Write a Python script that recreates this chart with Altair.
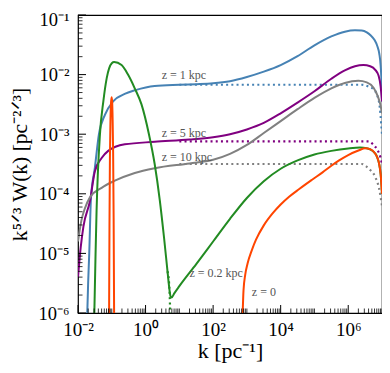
import altair as alt
import numpy as np
import pandas as pd

FONT = "Liberation Serif"

# ---- curve samples (log10 k [pc^-1], log10 k^{5/3} W(k)) ----
blue_lk = [-1.73, -1.70, -1.667, -1.617, -1.5, -1.38, -1.20, -0.96, -0.6, -0.3, 0.27, 1.0, 1.5,
           2.0, 2.5, 3.0, 3.5, 4.0, 4.5, 5.0, 5.5, 5.9, 6.2, 6.4, 6.55, 6.66, 6.78, 6.86, 6.92,
           6.96, 6.99, 7.0]
blue_lw = [-6.1, -5.5, -5.0, -4.08, -3.56, -3.0, -2.67, -2.45, -2.32, -2.26, -2.19, -2.17, -2.16,
           -2.145, -2.11, -2.04, -1.95, -1.84, -1.69, -1.51, -1.36, -1.28, -1.257, -1.26, -1.29,
           -1.34, -1.42, -1.52, -1.65, -1.85, -2.2, -2.45]
blue_dot_lk = [1.0, 6.4, 6.6, 6.76, 6.91, 7.0]
blue_dot_lw = [-2.17, -2.17, -2.2, -2.25, -2.45, -3.0]

purple_lk = [-2.0, -1.92, -1.84, -1.646, -1.5, -1.3, -1.106, -0.614, 0.27, 1.3, 2.0, 2.5, 3.0, 3.5,
             4.0, 4.5, 5.0, 5.5, 5.9, 6.2, 6.45, 6.65, 6.8, 6.9, 6.96, 7.0]
purple_lw = [-5.4, -4.9, -4.55, -4.12, -3.62, -3.4, -3.28, -3.17, -3.128, -3.09, -3.05, -3.0, -2.92,
             -2.81, -2.65, -2.47, -2.28, -2.07, -1.93, -1.86, -1.84, -1.86, -1.92, -2.02, -2.2,
             -2.45]
purple_dot_lk = [1.0, 6.6, 6.75, 6.85, 6.95, 7.0]
purple_dot_lw = [-3.12, -3.12, -3.18, -3.25, -3.38, -3.5]

gray_lk = [-2.0, -1.9, -1.8, -1.646, -1.3, -0.91, -0.32, 0.27, 1.3, 2.0, 2.5, 3.0, 3.5, 4.0, 4.5,
           5.0, 5.5, 5.9, 6.3, 6.55, 6.75, 6.88, 6.95, 7.0]
gray_lw = [-4.8, -4.45, -4.25, -4.06, -3.9, -3.78, -3.65, -3.57, -3.49, -3.43, -3.33, -3.18, -2.98,
           -2.78, -2.58, -2.39, -2.23, -2.14, -2.105, -2.13, -2.22, -2.37, -2.5, -2.65]
gray_dot_lk = [1.0, 6.4, 6.61, 6.81, 6.91, 7.0]
gray_dot_lw = [-3.5, -3.5, -3.58, -3.73, -3.9, -4.2]

green_lk = [-1.52, -1.48, -1.45, -1.35, -1.25, -1.15, -1.0, -0.93, -0.71, -0.52, -0.32, -0.12, 0.1,
            0.27, 0.42, 0.55, 0.65, 0.71, 0.74, 0.77, 0.85, 1.0, 1.5, 2.0, 2.5, 3.0, 3.5, 4.0,
            4.5, 5.0, 5.5, 6.0, 6.35, 6.55, 6.72, 6.86, 6.96, 7.0]
green_lw = [-6.1, -5.0, -4.28, -3.0, -2.45, -2.06, -1.81, -1.79, -1.84, -2.0, -2.23, -2.5, -3.0,
            -3.5, -4.1, -4.75, -5.3, -5.62, -5.72, -5.74, -5.67, -5.55, -5.18, -4.8, -4.42, -4.07,
            -3.79, -3.58, -3.44, -3.34, -3.28, -3.24, -3.225, -3.235, -3.28, -3.39, -3.67, -4.0]
green_dot_lk = [0.65, 0.71, 0.725, 0.74]
green_dot_lw = [-5.3, -5.62, -5.9, -6.2]

orange_spike_lk = [-1.08, -1.068, -1.055, -1.04, -1.025, -1.006, -0.99, -0.975, -0.96, -0.945, -0.93]
orange_spike_lw = [-6.1, -4.5, -3.4, -2.8, -2.5, -2.38, -2.45, -2.75, -3.3, -4.4, -6.1]
orange_tail_lk = [2.875, 2.9, 2.95, 3.02, 3.15, 3.27, 3.5, 3.76, 4.0, 4.25, 4.55, 4.94, 5.24, 5.5,
                  5.73, 6.0, 6.32, 6.5, 6.66, 6.86, 6.96, 7.0]
orange_tail_lw = [-6.0, -5.62, -5.36, -5.17, -4.94, -4.77, -4.53, -4.33, -4.18, -4.05, -3.92, -3.76,
                  -3.64, -3.53, -3.44, -3.35, -3.27, -3.235, -3.255, -3.39, -3.67, -4.0]

series_names = ["blue", "purple", "gray", "green", "orange_a", "orange_b"]
series_colors = ["#4682b4", "#800080", "#808080", "#228b22", "#ff4500", "#ff4500"]

ann_text = ["z = 1 kpc", "z = 5 kpc", "z = 10 kpc", "z = 0.2 kpc", "z = 0"]
ann_k = [3.0, 3.0, 3.0, 20.0, 1.4e3]
ann_w = [8.3e-3, 9.0e-4, 3.55e-4, 4.0e-6, 1.92e-6]

x_major = [1e-2, 1e0, 1e2, 1e4, 1e6]
x_sup = ["⁻²", "⁰", "²", "⁴", "⁶"]
y_major = [1e-6, 1e-5, 1e-4, 1e-3, 1e-2, 1e-1]
y_sup = ["⁻⁶", "⁻⁵", "⁻⁴", "⁻³", "⁻²", "⁻¹"]
x_minor = [m * 10.0 ** e for e in range(-2, 7) for m in range(1, 10)
           if not (m == 1 and e % 2 == 0)] + [1e7]
y_minor = [m * 10.0 ** e for e in range(-6, -1) for m in range(2, 10)]


def frame(name, lk, lw):
    return pd.DataFrame({"series": name, "k": 10.0 ** np.array(lk), "W": 10.0 ** np.array(lw),
                         "i": np.arange(len(lk))})


solid_df = pd.concat([
    frame("blue", blue_lk, blue_lw),
    frame("purple", purple_lk, purple_lw),
    frame("gray", gray_lk, gray_lw),
    frame("green", green_lk, green_lw),
    frame("orange_a", orange_spike_lk, orange_spike_lw),
    frame("orange_b", orange_tail_lk, orange_tail_lw),
])
dot_df = pd.concat([
    frame("blue", blue_dot_lk, blue_dot_lw),
    frame("purple", purple_dot_lk, purple_dot_lw),
    frame("gray", gray_dot_lk, gray_dot_lw),
    frame("green", green_dot_lk, green_dot_lw),
])
ann_df = pd.DataFrame({"label": ann_text, "k": ann_k, "W": ann_w})


def label_expr(vals, sups):
    parts = []
    for v, s in zip(vals, sups):
        e = int(round(np.log10(v)))
        parts.append(f"round(log(datum.value)/LN10) == {e} ? '10{s}'")
    return " : ".join(parts) + " : ''"


W_PLOT, H_PLOT = 304, 298
MAJ, MIN = 8, 4.5

xs = alt.Scale(type="log", domain=[1e-2, 1e7], nice=False)
ys = alt.Scale(type="log", domain=[1e-6, 1e-1], nice=False)
cs = alt.Scale(domain=series_names, range=series_colors)

x_main = alt.Axis(orient="bottom", values=x_major, labelExpr=label_expr(x_major, x_sup),
                  ticks=False, domain=False, grid=False, labelFont=FONT, labelFontSize=19,
                  labelColor="black", labelPadding=7, labelFlush=False, labelBaseline="top",
                  title="k [pc⁻¹]", titleFont=FONT, titleFontSize=22, titleFontWeight="normal",
                  titleColor="black", titlePadding=1)
y_main = alt.Axis(orient="left", values=y_major, labelExpr=label_expr(y_major, y_sup),
                  ticks=False, domain=False, grid=False, labelFont=FONT, labelFontSize=18.5,
                  labelColor="black", labelPadding=9, labelFlush=False, labelBaseline="middle",
                  labelOffset={"condition": {"test": "datum.value > 0.05", "value": 4}, "value": 0},
                  title="k⁵ᐟ³ W(k)  [pc⁻²ᐟ³]", titleFont=FONT, titleFontSize=21.5,
                  titleFontWeight="normal", titleColor="black", titlePadding=7)

dotted = alt.Chart(dot_df).mark_line(clip=True, strokeWidth=2.2, strokeDash=[2, 3.2],
                                     interpolate="monotone").encode(
    x=alt.X("k:Q", scale=xs, axis=None),
    y=alt.Y("W:Q", scale=ys, axis=None),
    color=alt.Color("series:N", scale=cs, legend=None),
    order="i:Q",
)

solid = alt.Chart(solid_df).mark_line(clip=True, strokeWidth=2, interpolate="monotone").encode(
    x=alt.X("k:Q", scale=xs, axis=x_main),
    y=alt.Y("W:Q", scale=ys, axis=y_main),
    color=alt.Color("series:N", scale=cs, legend=None),
    order="i:Q",
)

labels = alt.Chart(ann_df).mark_text(align="left", baseline="alphabetic", font=FONT, fontSize=12,
                                     color="#555555").encode(
    x=alt.X("k:Q", scale=xs, axis=None),
    y=alt.Y("W:Q", scale=ys, axis=None),
    text="label:N",
)

# inward tick marks on bottom and left
xt_major = alt.Chart(pd.DataFrame({"v": x_major})).mark_rule(color="black", strokeWidth=1).encode(
    x=alt.X("v:Q", scale=xs, axis=None), y=alt.value(H_PLOT), y2=alt.value(H_PLOT - MAJ))
xt_minor = alt.Chart(pd.DataFrame({"v": x_minor})).mark_rule(color="black", strokeWidth=0.8).encode(
    x=alt.X("v:Q", scale=xs, axis=None), y=alt.value(H_PLOT), y2=alt.value(H_PLOT - MIN))
yt_major = alt.Chart(pd.DataFrame({"v": y_major})).mark_rule(color="black", strokeWidth=1).encode(
    y=alt.Y("v:Q", scale=ys, axis=None), x=alt.value(0), x2=alt.value(MAJ))
yt_minor = alt.Chart(pd.DataFrame({"v": y_minor})).mark_rule(color="black", strokeWidth=0.8).encode(
    y=alt.Y("v:Q", scale=ys, axis=None), x=alt.value(0), x2=alt.value(MIN))

chart = alt.layer(dotted, solid, labels, xt_major, xt_minor, yt_major, yt_minor).resolve_axis(
    x="independent", y="independent"
).properties(
    width=W_PLOT, height=H_PLOT,
    padding={"left": 70, "top": 7, "right": 0, "bottom": 52},
    autosize=alt.AutoSizeParams(type="none"),
).configure_view(stroke="black", strokeWidth=1.2)

chart.save("out.html", embed_options={"renderer": "svg", "actions": False})
